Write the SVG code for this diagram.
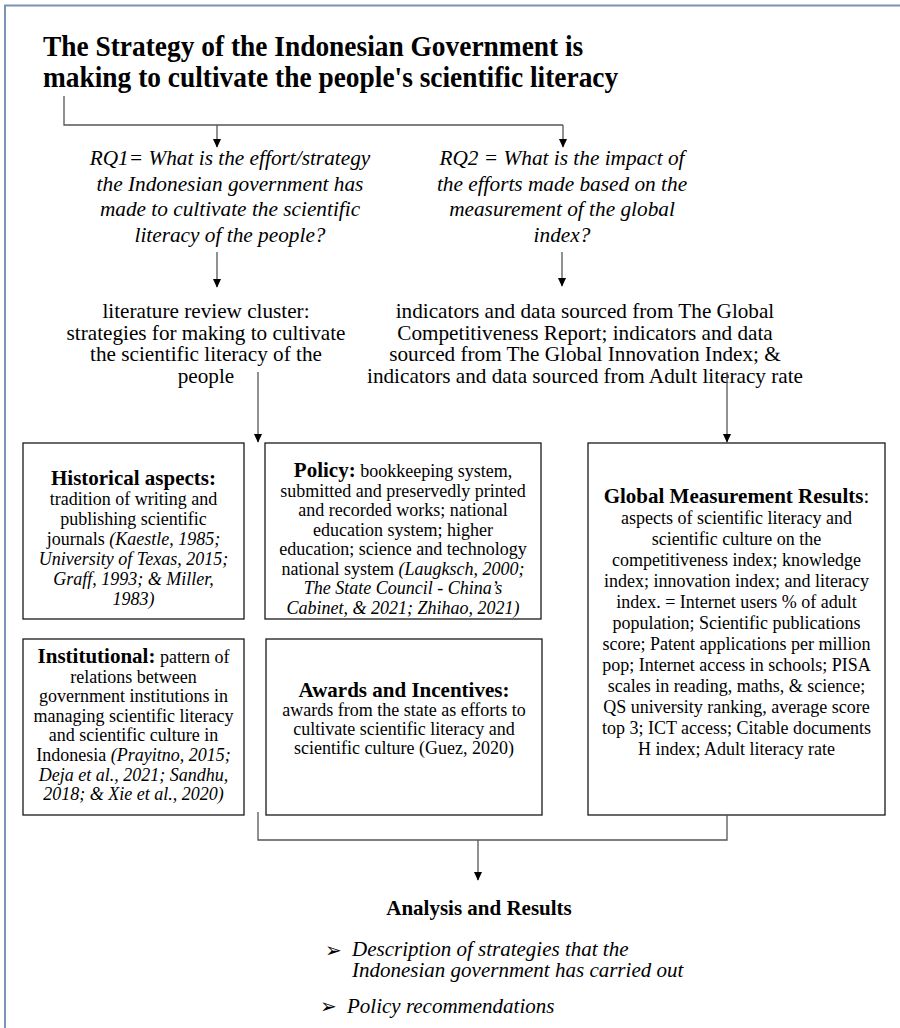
<svg xmlns="http://www.w3.org/2000/svg" width="900" height="1028" viewBox="0 0 900 1028">
<defs>
<marker id="ad" markerUnits="userSpaceOnUse" markerWidth="10" markerHeight="12" refX="10" refY="5" orient="auto" viewBox="0 0 12 10">
<path d="M0,0 L11,5 L0,10 Z" fill="#000"/>
</marker>
</defs>
<style>
.t{font-family:"Liberation Serif","Times New Roman",serif;fill:#000}
.title{font-size:27.4px;font-weight:bold}
.q{font-size:21.3px;font-style:italic;text-anchor:middle}
.m{font-size:21.2px;text-anchor:middle}
.b{font-size:18px;text-anchor:middle}
.h{font-size:21px;font-weight:bold}
.i{font-style:italic}
.box{fill:#fff;stroke:#1a1a1a;stroke-width:1.3}
.ln{fill:none;stroke:#555;stroke-width:1.3}
.frame{stroke:#7b93b7;stroke-width:2;fill:none}
.bul{font-family:"DejaVu Sans",sans-serif;font-size:20px}
</style>
<rect width="900" height="1028" fill="#fff"/>
<path class="frame" d="M5,1028 V5.5 H900"/>

<g id="title">
<text class="t title" transform="translate(43,56) scale(1,1.1)">The Strategy of the Indonesian Government is</text>
<text class="t title" transform="translate(43,87) scale(1,1.1)">making to cultivate the people's scientific literacy</text>
</g>

<g id="rq1">
<text class="t q" x="230" y="165">RQ1= What is the effort/strategy</text>
<text class="t q" x="230" y="191">the Indonesian government has</text>
<text class="t q" x="230" y="216">made to cultivate the scientific</text>
<text class="t q" x="230" y="242">literacy of the people?</text>
</g>

<g id="rq2">
<text class="t q" x="562" y="165">RQ2 = What is the impact of</text>
<text class="t q" x="562" y="191">the efforts made based on the</text>
<text class="t q" x="562" y="216">measurement of the global</text>
<text class="t q" x="562" y="242">index?</text>
</g>

<g id="literature">
<text class="t m" x="206" y="318">literature review cluster:</text>
<text class="t m" x="206" y="339.5">strategies for making to cultivate</text>
<text class="t m" x="206" y="361">the scientific literacy of the</text>
<text class="t m" x="206" y="382.5">people</text>
</g>

<g id="indicators">
<text class="t m" x="585" y="318">indicators and data sourced from The Global</text>
<text class="t m" x="585" y="339.5">Competitiveness Report; indicators and data</text>
<text class="t m" x="585" y="361">sourced from The Global Innovation Index; &amp;</text>
<text class="t m" x="585" y="382.5">indicators and data sourced from Adult literacy rate</text>
</g>

<g id="historical">
<rect class="box" x="23" y="443" width="221" height="176"/>
<text class="t b" x="133.5" y="485"><tspan class="h">Historical aspects:</tspan></text>
<text class="t b" x="133.5" y="505">tradition of writing and</text>
<text class="t b" x="133.5" y="525">publishing scientific</text>
<text class="t b" x="133.5" y="545">journals <tspan class="i">(Kaestle, 1985;</tspan></text>
<text class="t b i" x="133.5" y="565">University of Texas, 2015;</text>
<text class="t b i" x="133.5" y="585">Graff, 1993; &amp; Miller,</text>
<text class="t b i" x="133.5" y="605">1983)</text>
</g>

<g id="policy">
<rect class="box" x="265" y="443" width="276" height="176"/>
<text class="t b" x="403" y="477"><tspan class="h">Policy:</tspan> bookkeeping system,</text>
<text class="t b" x="403" y="496.5">submitted and preservedly printed</text>
<text class="t b" x="403" y="516">and recorded works; national</text>
<text class="t b" x="403" y="535.5">education system; higher</text>
<text class="t b" x="403" y="555">education; science and technology</text>
<text class="t b" x="403" y="574.5">national system <tspan class="i">(Laugksch, 2000;</tspan></text>
<text class="t b i" x="403" y="594">The State Council - China’s</text>
<text class="t b i" x="403" y="613.5">Cabinet, &amp; 2021; Zhihao, 2021)</text>
</g>

<g id="global">
<rect class="box" x="588" y="443" width="297" height="372"/>
<text class="t b" x="736.5" y="503"><tspan class="h">Global Measurement Results</tspan><tspan font-size="21px">:</tspan></text>
<text class="t b" x="736.5" y="524">aspects of scientific literacy and</text>
<text class="t b" x="736.5" y="545">scientific culture on the</text>
<text class="t b" x="736.5" y="566">competitiveness index; knowledge</text>
<text class="t b" x="736.5" y="587">index; innovation index; and literacy</text>
<text class="t b" x="736.5" y="608">index. = Internet users % of adult</text>
<text class="t b" x="736.5" y="629">population; Scientific publications</text>
<text class="t b" x="736.5" y="650">score; Patent applications per million</text>
<text class="t b" x="736.5" y="671">pop; Internet access in schools; PISA</text>
<text class="t b" x="736.5" y="692">scales in reading, maths, &amp; science;</text>
<text class="t b" x="736.5" y="713">QS university ranking, average score</text>
<text class="t b" x="736.5" y="734">top 3; ICT access; Citable documents</text>
<text class="t b" x="736.5" y="755">H index; Adult literacy rate</text>
</g>

<g id="institutional">
<rect class="box" x="23" y="639" width="221" height="176"/>
<text class="t b" x="133.5" y="663"><tspan class="h">Institutional:</tspan> pattern of</text>
<text class="t b" x="133.5" y="682.6">relations between</text>
<text class="t b" x="133.5" y="702.2">government institutions in</text>
<text class="t b" x="133.5" y="721.8">managing scientific literacy</text>
<text class="t b" x="133.5" y="741.4">and scientific culture in</text>
<text class="t b" x="133.5" y="761">Indonesia <tspan class="i">(Prayitno, 2015;</tspan></text>
<text class="t b i" x="133.5" y="780.6">Deja et al., 2021; Sandhu,</text>
<text class="t b i" x="133.5" y="800.2">2018; &amp; Xie et al., 2020)</text>
</g>

<g id="awards">
<rect class="box" x="266" y="639" width="276" height="176"/>
<text class="t b" x="404" y="697"><tspan class="h">Awards and Incentives:</tspan></text>
<text class="t b" x="404" y="716">awards from the state as efforts to</text>
<text class="t b" x="404" y="735">cultivate scientific literacy and</text>
<text class="t b" x="404" y="754">scientific culture (Guez, 2020)</text>
</g>

<g id="results">
<text class="t h" x="479" y="915" text-anchor="middle">Analysis and Results</text>
<text class="bul" x="325" y="957">➢</text>
<text class="t i" x="352" y="956" font-size="21px">Description of strategies that the</text>
<text class="t i" x="352" y="977" font-size="21px">Indonesian government has carried out</text>
<text class="bul" x="320" y="1013">➢</text>
<text class="t i" x="347" y="1013" font-size="21px">Policy recommendations</text>
</g>

<g id="connectors">
<path class="ln" d="M64,96 V125 H563"/>
<path class="ln" d="M217,125 V147" marker-end="url(#ad)"/>
<path class="ln" d="M563,125 V147" marker-end="url(#ad)"/>
<path class="ln" d="M217,252 V287" marker-end="url(#ad)"/>
<path class="ln" d="M562,252 V286" marker-end="url(#ad)"/>
<path class="ln" d="M258,372 V442" marker-end="url(#ad)"/>
<path class="ln" d="M727,372 V442" marker-end="url(#ad)"/>
<path class="ln" d="M258,812 V840 H727 V815"/>
<path class="ln" d="M478,840 V880" marker-end="url(#ad)"/>
</g>
</svg>
